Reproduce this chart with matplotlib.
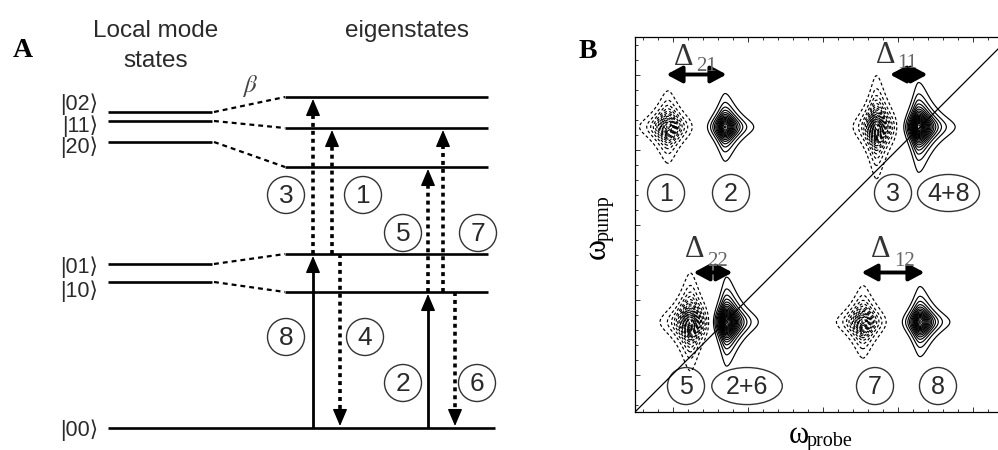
import numpy as np
import matplotlib
matplotlib.use('Agg')
import matplotlib.pyplot as plt
from matplotlib.patches import Ellipse
from matplotlib.ticker import MultipleLocator

plt.rcParams['mathtext.fontset'] = 'stix'
SANS = ['Liberation Sans', 'DejaVu Sans']
SERIF = ['Liberation Serif', 'DejaVu Serif']
TXT = '#2a2a2a'

# ---------------- Panel A data ----------------
ket_labels = ['|02⟩', '|11⟩', '|20⟩', '|01⟩', '|10⟩', '|00⟩']
local_energy = [316, 307, 286, 164, 146, 0]          # local-mode levels
ket_label_base = [318, 296, 275, 155, 131, -8]
eigen_energy = [0, 136, 174, 261, 300, 331]          # eigenstates e0..e5
local_to_eigen = [5, 4, 3, 2, 1]                     # |02>,|11>,|20>,|01>,|10> -> eigen index

trans_label = ['3', '1', '8', '4', '5', '7', '2', '6']
trans_from = [2, 2, 0, 2, 1, 1, 0, 1]
trans_to = [5, 4, 2, 0, 3, 4, 1, 0]
trans_style = ['dotted', 'dotted', 'solid', 'dotted', 'dotted', 'dotted', 'solid', 'dotted']
trans_x = [313, 332, 313, 340, 428, 443, 428, 455]
trans_lab_x = [286, 363, 286, 365, 403, 478, 403, 477]
trans_lab_y = [233, 233, 91, 91, 195, 195, 45, 45]

# ---------------- Panel B data ----------------
peak_label = ['1', '2', '3', '4+8', '5', '2+6', '7', '8']
peak_probe = [-0.3, 3.5, 13.6, 16.4, 1.2, 3.6, 12.7, 16.5]
peak_pump = [16.5, 16.5, 16.5, 16.5, 3.5, 3.5, 3.5, 3.5]
peak_amp = [-1.0, 1.0, -1.35, 1.3, -1.35, 1.3, -1.0, 1.0]
peak_wl = [0.62, 0.48, 0.45, 0.42, 0.57, 0.42, 0.60, 0.47]
peak_wr = [0.62, 0.65, 0.55, 0.72, 0.55, 0.66, 0.60, 0.66]
peak_wy = [0.76, 0.70, 0.92, 0.82, 0.88, 0.82, 0.76, 0.72]
plab_x = [-0.43, 3.9, 14.7, 18.4, 0.9, 4.97, 13.5, 17.7]
plab_y = [12.1, 12.1, 12.1, 12.1, -0.77, -0.77, -0.77, -0.77]
plab_w = [2.47, 2.47, 2.47, 4.13, 2.47, 4.7, 2.47, 2.47]

delta_sub = ['21', '11', '22', '12']
delta_x0 = [-0.4, 14.5, 1.4, 12.6]
delta_x1 = [3.6, 17.0, 4.0, 16.8]
delta_y = [20.0, 20.0, 6.8, 6.8]
delta_tx = [0.1, 13.55, 0.85, 13.25]
delta_ty = [20.63, 20.77, 7.83, 7.83]
delta_sx = [1.6, 15.0, 2.3, 14.8]
delta_sy = [20.25, 20.4, 7.25, 7.25]

fig = plt.figure(figsize=(9.98, 4.5), dpi=100)

# ================= Panel A =================
axA = fig.add_axes([0, 0, 560 / 998, 1])
axA.set_xlim(0, 560)
axA.set_ylim(-22, 428)
axA.axis('off')

lw_level = 1.9
axA.plot([108, 495], [0, 0], color='k', lw=lw_level, solid_capstyle='butt')
for e in local_energy[:-1]:
    axA.plot([108, 212], [e, e], color='k', lw=lw_level, solid_capstyle='butt')
for e in eigen_energy[1:]:
    axA.plot([285, 488], [e, e], color='k', lw=lw_level, solid_capstyle='butt')
for e, k in zip(local_energy[:-1], local_to_eigen):
    axA.plot([214, 285], [e, eigen_energy[k]], color='k', lw=1.6,
             linestyle=(0, (2.2, 1.8)))
for lab, y in zip(ket_labels, ket_label_base):
    axA.text(98, y, lab, ha='right', va='baseline', fontsize=15.5, family=SANS, color=TXT)

axA.text(250, 342, r'$\beta$', ha='center', va='center', fontsize=18, color='#444444')
axA.text(156, 391, 'Local mode', ha='center', va='baseline', fontsize=17.5, family=SANS, color=TXT)
axA.text(156, 361, 'states', ha='center', va='baseline', fontsize=17.5, family=SANS, color=TXT)
axA.text(407, 391, 'eigenstates', ha='center', va='baseline', fontsize=17.5, family=SANS, color=TXT)
axA.text(23, 371, 'A', ha='center', va='baseline', fontsize=20, family=SERIF,
         fontweight='bold', color='k')

head = 11
for f, t, st, x in zip(trans_from, trans_to, trans_style, trans_x):
    y0 = eigen_energy[f]
    y1 = eigen_energy[t]
    d = 1 if y1 > y0 else -1
    tip = y1 - d * 2
    if st == 'solid':
        axA.plot([x, x], [y0, tip - d * head], color='k', lw=2.0, solid_capstyle='butt')
    else:
        axA.plot([x, x], [y0, tip - d * head], color='k', lw=2.6,
                 linestyle=(0, (1.1, 1.1)))
    axA.annotate('', xy=(x, tip), xytext=(x, tip - d * (head + 2)),
                 arrowprops=dict(arrowstyle='-|>,head_length=0.75,head_width=0.32',
                                 mutation_scale=14, lw=1.0, color='k',
                                 shrinkA=0, shrinkB=0))

for lab, x, y in zip(trans_label, trans_lab_x, trans_lab_y):
    axA.add_patch(Ellipse((x, y), 37, 37, fill=False, lw=1.0, ec='#333333'))
    axA.text(x, y - 1, lab, ha='center', va='center', fontsize=19, family=SANS, color=TXT)

# ================= Panel B =================
x_lo, x_hi = -2.5, (1000 - 672.5) / 15
axB = fig.add_axes([635 / 998, 38 / 450, 365 / 998, 375 / 450])
axB.set_xlim(x_lo, x_hi)
axB.set_ylim(-2.5, 22.5)

xg = np.linspace(x_lo, x_hi, 900)
yg = np.linspace(-2.5, 22.5, 900)
X, Y = np.meshgrid(xg, yg)
Z = np.zeros_like(X)
for cx, cy, a, wl, wr, wy in zip(peak_probe, peak_pump, peak_amp, peak_wl, peak_wr, peak_wy):
    dx = X - cx
    u = np.where(dx < 0, dx / wl, dx / wr)
    v = (Y - cy) / wy
    Z += a / ((1 + u ** 2) * (1 + v ** 2))
zmax = np.abs(Z).max()
lev = np.linspace(0.09, zmax * 0.97, 20)
levels = np.concatenate([-lev[::-1], lev])
styles = [(0, (2.5, 2.0))] * len(lev) + ['solid'] * len(lev)
axB.contour(X, Y, Z, levels=levels, colors='k', linewidths=0.85, linestyles=styles)

axB.plot([x_lo, x_hi], [x_lo, x_hi], color='k', lw=0.9)

for lab, x, y, w in zip(peak_label, plab_x, plab_y, plab_w):
    axB.add_patch(Ellipse((x, y), w, 2.47, fill=False, lw=1.0, ec='#333333'))
    axB.text(x, y - 0.05, lab, ha='center', va='center', fontsize=18, family=SANS, color=TXT)

for i, sub in enumerate(delta_sub):
    axB.annotate('', xy=(delta_x1[i], delta_y[i]), xytext=(delta_x0[i], delta_y[i]),
                 arrowprops=dict(arrowstyle='<|-|>,head_length=0.67,head_width=0.36',
                                 mutation_scale=14, lw=2.8, color='k',
                                 shrinkA=0, shrinkB=0))
    axB.text(delta_tx[i], delta_ty[i], 'Δ', ha='left', va='baseline', fontsize=22,
             family=SERIF, color='#333333')
    axB.text(delta_sx[i], delta_sy[i], sub, ha='left', va='baseline', fontsize=15,
             family=SERIF, color='#666666')

axB.xaxis.set_major_locator(MultipleLocator(5))
axB.xaxis.set_minor_locator(MultipleLocator(1))
axB.yaxis.set_major_locator(MultipleLocator(5))
axB.yaxis.set_minor_locator(MultipleLocator(1))
axB.tick_params(which='both', direction='in', top=True, right=False,
                labelbottom=False, labelleft=False, width=0.7, color='#333333')
axB.tick_params(which='major', length=3.5)
axB.tick_params(which='minor', length=2)
for sp in axB.spines.values():
    sp.set_linewidth(0.9)
axB.spines['right'].set_visible(False)

# axis labels (upright omega with subscript)
fig.text(789 / 998, 1 - 443 / 450, 'ω', ha='left', va='baseline', fontsize=22,
         family=SERIF, color='k')
fig.text(807 / 998, 1 - 446 / 450, 'probe', ha='left', va='baseline', fontsize=14.5,
         family=SERIF, color='k')
fig.text(605 / 998, 1 - 259 / 450, 'ω', ha='left', va='baseline', fontsize=23,
         family=SERIF, color='k', rotation=90, rotation_mode='anchor')
fig.text(609 / 998, 1 - 241 / 450, 'pump', ha='left', va='baseline', fontsize=14.5,
         family=SERIF, color='k', rotation=90, rotation_mode='anchor')
fig.text(588 / 998, 1 - 58 / 450, 'B', ha='center', va='baseline', fontsize=20,
         family=SERIF, fontweight='bold', color='k')

fig.savefig('out.png', dpi=100)
